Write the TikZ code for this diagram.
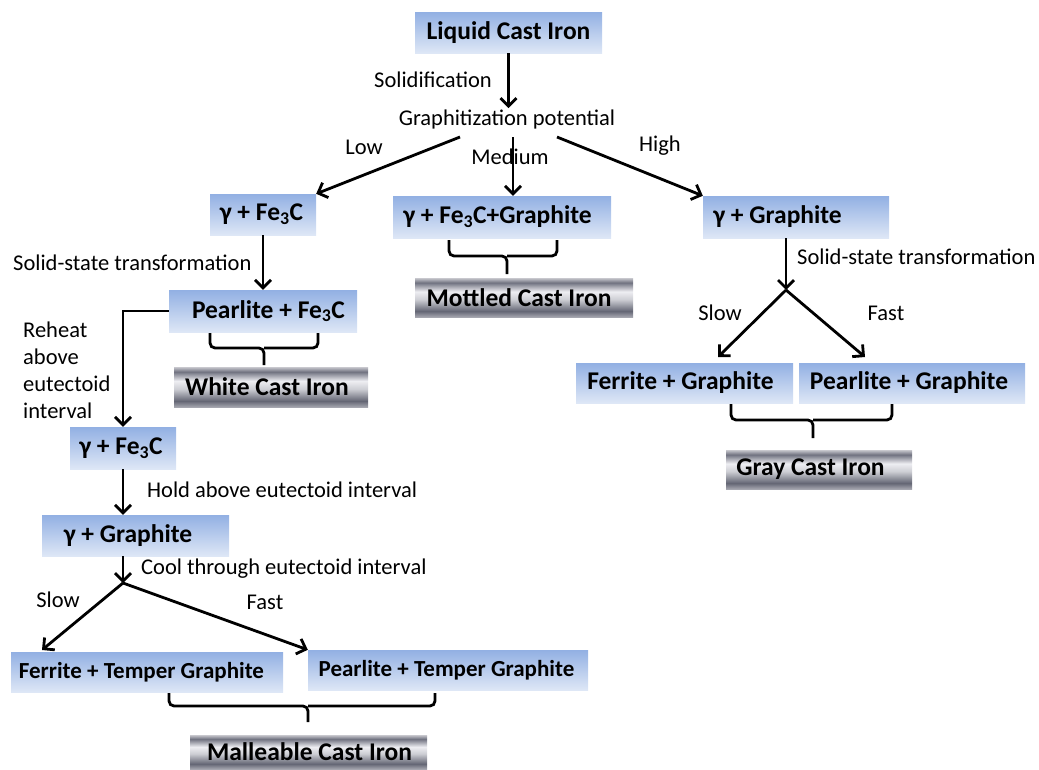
\documentclass[tikz,border=0pt]{standalone}
\usepackage{fontspec}
\setmainfont{Carlito}
\usetikzlibrary{arrows.meta,calc}
\definecolor{btop}{RGB}{146,176,227}
\definecolor{bbot}{RGB}{222,231,246}
\pgfdeclareverticalshading{metal}{100bp}{rgb(0bp)=(0.647,0.651,0.686); rgb(25bp)=(0.647,0.651,0.686); rgb(32.5bp)=(0.392,0.4,0.455); rgb(47.5bp)=(0.804,0.808,0.831); rgb(57.5bp)=(0.933,0.933,0.949); rgb(69bp)=(0.439,0.447,0.502); rgb(75bp)=(0.784,0.784,0.808); rgb(100bp)=(0.784,0.784,0.808)}
\newcommand\lblfont{\fontsize{22.5}{27}\selectfont}
\newcommand\boxfont{\fontsize{25.5}{30}\selectfont\bfseries}
\newcommand\boxfontS{\fontsize{23}{28}\selectfont\bfseries}
\newcommand\bracedraw[6]{%
  \draw[bracestyle] (#1,#3) -- (#1,#4) -- (#5,#4) -- (#5,#6);
  \draw[bracestyle] (#2,#3) -- (#2,#4) -- (#5,#4);}
\tikzset{
  bx/.style n args={3}{minimum width=#1pt, minimum height=#2pt, inner xsep=0pt, inner ysep=0pt,
     execute at end node={\hspace*{#3pt}}},
  bluebox/.style={shade, top color=btop, bottom color=bbot, draw=none, font=\boxfont},
  metalbox/.style={shading=metal, draw=none, font=\boxfont},
  lbl/.style={inner sep=1pt, font=\lblfont},
  arr/.style={line width=2.8pt, -{Straight Barb[length=8pt,width=16pt]}},
  bracestyle/.style={line width=2.8pt, rounded corners=5pt},
}
\begin{document}
\begin{tikzpicture}[x=1pt,y=-1pt]
\useasboundingbox (0,0) rectangle (1039,769);
% boxes
\node[bluebox,bx={187}{41}{0}] (lci) at (508.5,32.5) {Liquid Cast Iron};
\node[bluebox,bx={106}{41}{3}] (g1) at (263,214.5) {γ + Fe\textsubscript{3}C};
\node[bluebox,bx={218}{42}{9}] (g2) at (502,217) {γ + Fe\textsubscript{3}C+Graphite};
\node[bluebox,bx={186}{42}{37}] (g3) at (796,217) {γ + Graphite};
\node[bluebox,bx={188}{42}{-11}] (pf) at (263,311) {Pearlite + Fe\textsubscript{3}C};
\node[metalbox,bx={194}{40}{8}] (white) at (271,387) {White Cast Iron};
\node[metalbox,bx={218}{39}{10}] (mottled) at (524,297.5) {Mottled Cast Iron};
\node[bluebox,bx={217}{40}{8}] (fg) at (684.5,383) {Ferrite + Graphite};
\node[bluebox,bx={226}{40}{6}] (pg) at (912,383) {Pearlite + Graphite};
\node[metalbox,bx={186}{39}{17}] (gray) at (819,469.5) {Gray Cast Iron};
\node[bluebox,bx={106}{42}{4}] (g4) at (123,448) {γ + Fe\textsubscript{3}C};
\node[bluebox,bx={187}{41}{15}] (g5) at (135.5,535.5) {γ + Graphite};
\node[bluebox,bx={272}{40}{11},font=\boxfontS] (ft) at (147,672) {Ferrite + Temper Graphite};
\node[bluebox,bx={280}{40}{3},font=\boxfontS] (pt) at (448,670) {Pearlite + Temper Graphite};
\node[metalbox,bx={237}{34}{-2}] (mall) at (308.5,752) {Malleable Cast Iron};
% labels
\node[lbl] (sol) at (433,80) {Solidification};
\node[lbl] (gp) at (507,119) {Graphitization potential};
\node[lbl] (low) at (364,147) {Low};
\node[lbl] (med) at (510,157) {Medium};
\node[lbl] (high) at (660,146) {High};
\node[lbl,anchor=west] (sst1) at (12,263) {Solid-state transformation};
\node[lbl,anchor=west] (sst2) at (796,257) {Solid-state transformation};
\node[lbl] (slow1) at (720,313) {Slow};
\node[lbl] (fast1) at (886,313) {Fast};
\node[lbl,anchor=west,align=left] (reheat) at (22,370) {Reheat\\above\\eutectoid\\interval};
\node[lbl,anchor=west] (hold) at (146,490) {Hold above eutectoid interval};
\node[lbl,anchor=west] (cool) at (140,569) {Cool through eutectoid interval};
\node[lbl] (slow2) at (58,600) {Slow};
\node[lbl] (fast2) at (265,602) {Fast};
% coordinates
\coordinate (gpL) at (460,137);
\coordinate (gpM) at (513,137);
\coordinate (gpH) at (557,137);
\coordinate (br1) at (786,290);
\coordinate (fgT) at (718,357);
\coordinate (pgT) at (865,357);
\coordinate (br2) at (123,583);
\coordinate (ftT) at (42,650);
% connectors
\draw[arr] (lci.south) -- (lci.south |- gp.north);
\draw[arr] (gpL) -- (g1.north east);
\draw[arr] (gpM) -- (gpM |- g2.north);
\draw[arr] (gpH) -- (g3.north west);
\draw[arr] (g1.south) -- (pf.north);
\draw[arr] (g3.south -| br1) -- (br1);
\draw[arr] (br1) -- (fgT);
\draw[arr] (br1) -- (pgT);
\draw[arr] (pf.west) -| (g4.north);
\draw[arr] (g4.south) -- (g4.south |- g5.north);
\draw[arr] (g5.south -| br2) -- (br2);
\draw[arr] (br2) -- (ftT);
\draw[arr] (br2) -- (pt.north west);
% braces
\bracedraw{210}{318}{333}{348}{264}{365}
\bracedraw{449}{557}{240}{256}{507}{274}
\bracedraw{731}{892}{404}{420}{813}{438}
\bracedraw{169}{435}{693}{706}{308}{722}
\end{tikzpicture}
\end{document}
